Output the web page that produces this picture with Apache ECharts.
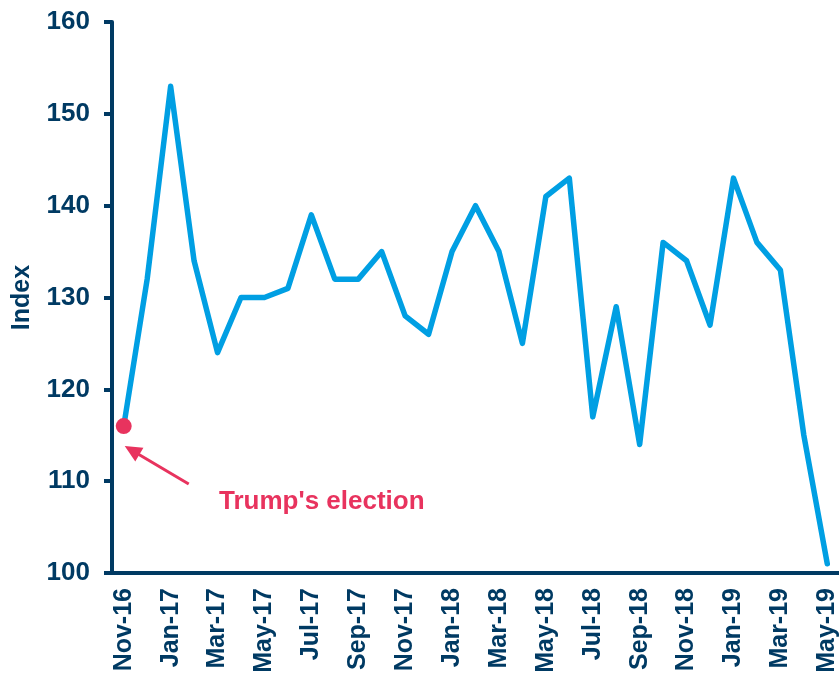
<!DOCTYPE html>
<html><head><meta charset="utf-8">
<script src="https://cdn.jsdelivr.net/npm/echarts@6/dist/echarts.min.js"></script>
<style>html,body{margin:0;padding:0;background:#fff}#c{width:839px;height:676px}</style>
</head><body><div id="c"></div>
<script>
const months = ["Nov-16","Dec-16","Jan-17","Feb-17","Mar-17","Apr-17","May-17","Jun-17","Jul-17","Aug-17","Sep-17","Oct-17","Nov-17","Dec-17","Jan-18","Feb-18","Mar-18","Apr-18","May-18","Jun-18","Jul-18","Aug-18","Sep-18","Oct-18","Nov-18","Dec-18","Jan-19","Feb-19","Mar-19","Apr-19","May-19"];
const indexValues = [116,132,153,134,124,130,130,131,139,132,132,135,128,126,135,140,135,125,141,143,117,129,114,136,134,127,143,136,133,115,101];
const yTicks = [100,110,120,130,140,150,160];
const electionIdx = 0;
const annotationText = "Trump's election";

const navy = '#003A63';
const red = '#E8335E';
const FONT = '"Liberation Sans", Arial, sans-serif';
const chart = echarts.init(document.getElementById('c'));
chart.setOption({
  animation: false,
  grid: {left: 112, right: 0, top: 22, bottom: 103, containLabel: false, outerBoundsMode: 'none'},
  xAxis: {
    type: 'category', data: months, boundaryGap: true,
    axisLine: {lineStyle: {color: navy, width: 4}},
    axisTick: {interval: 1, length: 7, lineStyle: {color: navy, width: 4}},
    axisLabel: {interval: 1, rotate: 90, color: navy, fontFamily: FONT, fontWeight: 'bold', fontSize: 25, margin: 15}
  },
  yAxis: {
    type: 'value', min: yTicks[0], max: yTicks[yTicks.length-1], interval: 10,
    name: 'Index', nameLocation: 'middle', nameGap: 77, nameRotate: 90,
    nameTextStyle: {color: navy, fontFamily: FONT, fontWeight: 'bold', fontSize: 25},
    splitLine: {show: false},
    axisLine: {show: true, lineStyle: {color: navy, width: 4}},
    axisTick: {show: true, length: 8, lineStyle: {color: navy, width: 4}},
    axisLabel: {color: navy, fontFamily: FONT, fontWeight: 'bold', fontSize: 26, margin: 22}
  },
  series: [
    {type: 'line', data: indexValues, symbol: 'none', lineStyle: {color: '#009FE3', width: 5.5, join: 'round', cap: 'round'}, z: 2},
    {type: 'scatter', data: [[electionIdx, indexValues[electionIdx]]], symbol: 'circle', symbolSize: 16, itemStyle: {color: red, opacity: 1}, z: 5}
  ]
});

// annotation arrow positioned relative to the election point
const p = chart.convertToPixel({gridIndex: 0}, [electionIdx, indexValues[electionIdx]]);
const tip = [p[0] + 1, p[1] + 20];
const tail = [tip[0] + 64, tip[1] + 38];
const dx = tip[0]-tail[0], dy = tip[1]-tail[1];
const L = Math.hypot(dx, dy), ux = dx/L, uy = dy/L;
const hl = 17, hw = 8;
const base = [tip[0]-ux*hl, tip[1]-uy*hl];
chart.setOption({
  graphic: [
    {type: 'line', shape: {x1: tail[0], y1: tail[1], x2: base[0]+ux*2, y2: base[1]+uy*2}, style: {stroke: red, lineWidth: 3}},
    {type: 'polygon', shape: {points: [tip, [base[0]-uy*hw, base[1]+ux*hw], [base[0]+uy*hw, base[1]-ux*hw]]}, style: {fill: red}},
    {type: 'text', x: 219, y: 502, style: {text: annotationText, fill: red, font: 'bold 26px "Liberation Sans", Arial, sans-serif', verticalAlign: 'middle', align: 'left'}}
  ]
});
</script></body></html>
